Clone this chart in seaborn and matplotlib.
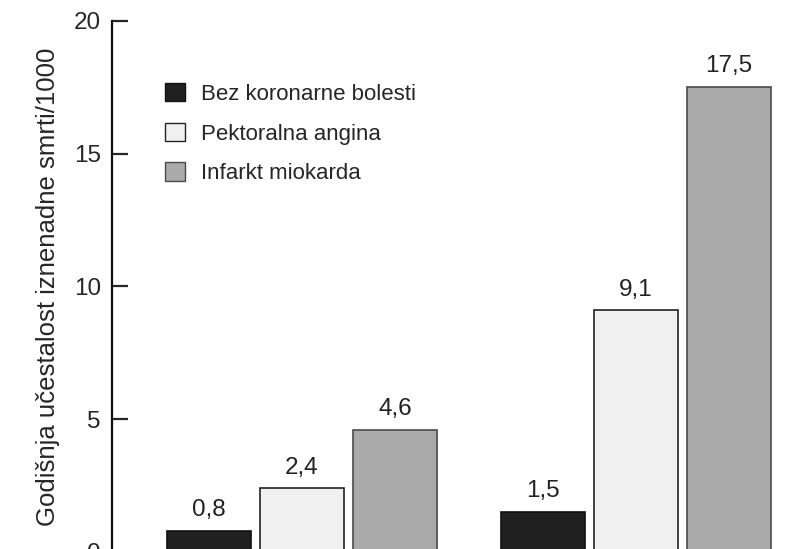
import pandas as pd
import numpy as np
import matplotlib
matplotlib.use('Agg')
import matplotlib.pyplot as plt
from matplotlib import font_manager
from matplotlib.patches import Patch
import seaborn as sns

# Data
groups = ['Skupina 1', 'Skupina 2']
statuses = ['Bez koronarne bolesti', 'Pektoralna angina', 'Infarkt miokarda']
values_group1 = [0.8, 2.4, 4.6]
values_group2 = [1.5, 9.1, 17.5]
yticks = [0, 5, 10, 15, 20]

bar_colors = ['#202020', '#f0f0f0', '#aaaaaa']
edge_colors = ['#111111', '#222222', '#4a4a4a']

df = pd.DataFrame({
    'grupa': [groups[0]] * 3 + [groups[1]] * 3,
    'status': statuses * 2,
    'vrijednost': values_group1 + values_group2,
})

sns.set_style('white')
names = {f.name for f in font_manager.fontManager.ttflist}
font = 'Liberation Sans Narrow' if 'Liberation Sans Narrow' in names else 'Liberation Sans'
plt.rcParams['font.family'] = [font, 'DejaVu Sans']

fig = plt.figure(figsize=(8, 5.49), dpi=100)
ax = fig.add_axes([0.14, -3 / 549, 0.86, 1 - 20.7 / 549 + 3 / 549])

sns.barplot(data=df, x='grupa', y='vrijednost', hue='status', hue_order=statuses,
            palette=bar_colors, width=0.835, gap=0.1, ax=ax, legend=False)

for cont, ec in zip(ax.containers, edge_colors):
    for bar in cont:
        bar.set_edgecolor(ec)
        bar.set_linewidth(1.2)
    labels = [f'{b.get_height():.1f}'.replace('.', ',') for b in cont]
    ax.bar_label(cont, labels=labels, padding=7, fontsize=17.5, color='#222222')

ax.set_ylim(0, 20)
ax.set_xlim(-0.569, 1.491)
ax.set_yticks(yticks)
ax.set_yticklabels([str(t) for t in yticks], fontsize=17.5)
ax.set_xticks([])
ax.set_xlabel('')
ax.set_ylabel('Godišnja učestalost iznenadne smrti/1000', fontsize=18.5, labelpad=10)
ax.tick_params(axis='y', direction='in', length=11.5, width=1.6, pad=8, left=True)

for s in ['top', 'right', 'bottom']:
    ax.spines[s].set_visible(False)
ax.spines['left'].set_linewidth(1.6)
ax.spines['left'].set_color('#111111')

handles = [Patch(facecolor=c, edgecolor=e, linewidth=1) for c, e in zip(bar_colors, edge_colors)]
ax.legend(handles, statuses, loc='upper left', bbox_to_anchor=(165 / 800, 1 - 83 / 549),
          bbox_transform=fig.transFigure, frameon=False, fontsize=16,
          handlelength=0.9, handleheight=0.9, handletextpad=0.7, labelspacing=0.8,
          borderpad=0, borderaxespad=0)

fig.savefig('out.png', dpi=100)
